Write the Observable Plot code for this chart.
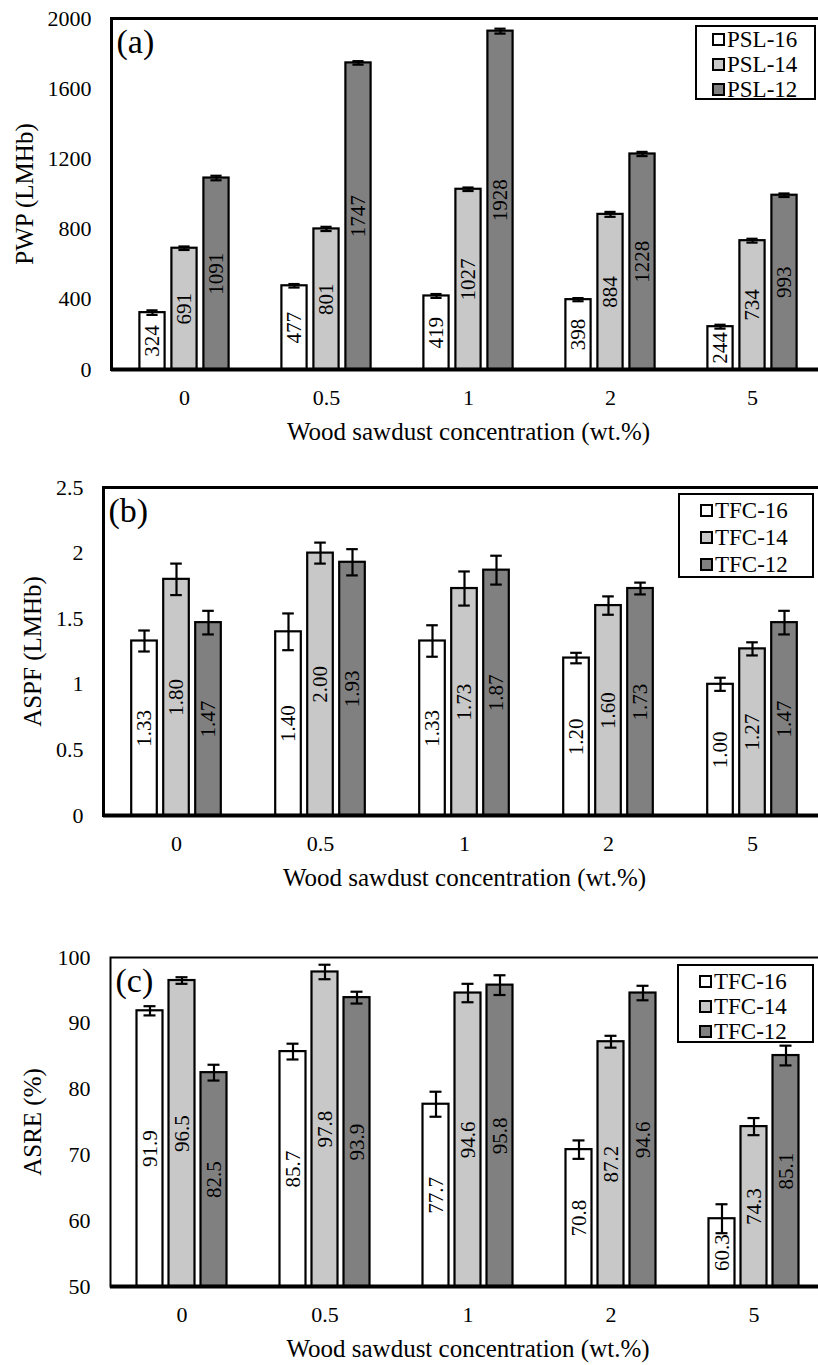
<!DOCTYPE html>
<html><head><meta charset="utf-8">
<script src="https://cdn.jsdelivr.net/npm/d3@7"></script>
<script src="https://cdn.jsdelivr.net/npm/@observablehq/plot@0.6"></script>
<style>
html,body{margin:0;padding:0;background:#fff;overflow:hidden;}
#root{position:relative;width:818px;height:1365px;overflow:hidden;font-family:'Liberation Serif',serif;}
.panel{position:absolute;left:0;width:826px;}
.legend{position:absolute;border:2px solid #000;background:#fff;box-sizing:border-box;font-size:23px;color:#000;font-family:'Liberation Serif',serif;}
.legend .item{position:absolute;display:flex;align-items:center;white-space:nowrap;line-height:1;}
.legend .sw{width:9px;height:9px;border:2px solid #000;margin-right:2px;}
.legend span{font-family:'Liberation Serif',serif;font-size:23px;}
g[aria-label="x-axis label"] text, g[aria-label="y-axis label"] text{font-size:25px;}
</style></head><body><div id="root"></div>
<script>
// ---- data ----
const concentrations = ["0", "0.5", "1", "2", "5"];
const xTitle = "Wood sawdust concentration (wt.%)";
const seriesColors = ["#ffffff", "#c8c8c8", "#808080"];

// (a) PWP
const pwpSeries = ["PSL-16", "PSL-14", "PSL-12"];
const pwp16 = [324, 477, 419, 398, 244];
const pwp14 = [691, 801, 1027, 884, 734];
const pwp12 = [1091, 1747, 1928, 1228, 993];
const pwpErr16 = [13, 10, 11, 9, 11];
const pwpErr14 = [10, 12, 10, 14, 11];
const pwpErr12 = [13, 10, 14, 12, 10];
const pwpTicks = [0, 400, 800, 1200, 1600, 2000];

// (b) ASPF
const aspfSeries = ["TFC-16", "TFC-14", "TFC-12"];
const aspf16 = [1.33, 1.40, 1.33, 1.20, 1.00];
const aspf14 = [1.80, 2.00, 1.73, 1.60, 1.27];
const aspf12 = [1.47, 1.93, 1.87, 1.73, 1.47];
const aspfErr16 = [0.08, 0.14, 0.12, 0.04, 0.05];
const aspfErr14 = [0.12, 0.08, 0.13, 0.07, 0.05];
const aspfErr12 = [0.09, 0.10, 0.11, 0.045, 0.09];
const aspfTicks = [0, 0.5, 1, 1.5, 2, 2.5];

// (c) ASRE
const asreSeries = ["TFC-16", "TFC-14", "TFC-12"];
const asre16 = [91.9, 85.7, 77.7, 70.8, 60.3];
const asre14 = [96.5, 97.8, 94.6, 87.2, 74.3];
const asre12 = [82.5, 93.9, 95.8, 94.6, 85.1];
const asreErr16 = [0.7, 1.2, 1.9, 1.4, 2.2];
const asreErr14 = [0.5, 1.1, 1.4, 0.9, 1.3];
const asreErr12 = [1.2, 0.9, 1.5, 1.1, 1.5];
const asreTicks = [50, 60, 70, 80, 90, 100];

// ---- drawing ----
const root = document.getElementById("root");

function makePanel(cfg) {
  const {top, height, marginLeft, marginTop, marginBottom, series, values, errors,
         yDomain, yTicks, yLabel, yLabelOffset, letter, fmt, legend, frameWidth} = cfg;
  const width = 826, marginRight = 1;
  const step = (width - marginLeft - marginRight) / concentrations.length;
  const barW = 26, gap = 32, capW = 12;
  const inset = (step - barW) / 2;
  const capInset = (step - capW) / 2;
  const base = yDomain[0];
  const rows = [];
  series.forEach((s, j) => values[j].forEach((v, i) =>
    rows.push({conc: concentrations[i], series: s, j, value: v, err: errors[j][i]})));
  const marks = [];
  series.forEach((s, j) => {
    const d = rows.filter(r => r.j === j);
    const dx = (j - 1) * gap;
    marks.push(Plot.barY(d, {x: "conc", y1: () => base, y2: "value", fill: seriesColors[j],
      stroke: "#000", strokeWidth: 2.2, insetLeft: inset, insetRight: inset, dx}));
  });
  series.forEach((s, j) => {
    const d = rows.filter(r => r.j === j);
    const dx = (j - 1) * gap;
    marks.push(Plot.text(d, {x: "conc", y: r => (base + r.value) / 2, text: r => fmt(r.value),
      rotate: -90, dx, fontSize: 21, fill: "#000"}));
  });
  series.forEach((s, j) => {
    const d = rows.filter(r => r.j === j);
    const dx = (j - 1) * gap;
    marks.push(Plot.ruleX(d, {x: "conc", y1: r => r.value - r.err, y2: r => r.value + r.err,
      stroke: "#000", strokeWidth: 2.2, dx}));
    marks.push(Plot.tickY(d, {x: "conc", y: r => r.value + r.err, stroke: "#000", strokeWidth: 2.2,
      insetLeft: capInset, insetRight: capInset, dx}));
    marks.push(Plot.tickY(d, {x: "conc", y: r => r.value - r.err, stroke: "#000", strokeWidth: 2.2,
      insetLeft: capInset, insetRight: capInset, dx}));
  });
  marks.push(Plot.frame({stroke: "#000", strokeWidth: frameWidth}));
  marks.push(Plot.ruleY([base], {stroke: "#000", strokeWidth: 4}));
  marks.push(Plot.text([letter], {frameAnchor: "top-left", textAnchor: "start", lineAnchor: "top",
    dx: 5, dy: 10, fontSize: 34, fill: "#000"}));

  const chart = Plot.plot({
    width, height, marginLeft, marginRight, marginTop, marginBottom,
    style: {fontFamily: "'Liberation Serif', serif", fontSize: "22px", color: "#000", background: "transparent", overflow: "visible"},
    x: {domain: concentrations, padding: 0, label: xTitle, labelAnchor: "center", labelOffset: 70,
        tickSize: 0, tickPadding: 20, labelArrow: false},
    y: {domain: yDomain, ticks: yTicks, tickFormat: d => String(d), label: yLabel, labelAnchor: "center",
        labelOffset: yLabelOffset, tickSize: 0, tickPadding: 20, labelArrow: false},
    marks
  });
  const wrap = document.createElement("div");
  wrap.className = "panel";
  wrap.style.top = top + "px";
  wrap.style.height = height + "px";
  wrap.appendChild(chart);
  root.appendChild(wrap);

  // legend
  const lg = d3.select(wrap).append("div").attr("class", "legend")
    .style("left", legend.left + "px").style("top", legend.top + "px")
    .style("width", legend.width + "px").style("height", legend.height + "px");
  series.forEach((s, j) => {
    const it = lg.append("div").attr("class", "item")
      .style("left", legend.padLeft + "px").style("top", (legend.first + j * legend.spacing - 12) + "px")
      .style("height", "24px");
    it.append("div").attr("class", "sw").style("background", seriesColors[j]);
    it.append("span").text(s);
  });
}

makePanel({
  top: 0, height: 445, marginLeft: 111, marginTop: 18, marginBottom: 76, frameWidth: 3,
  series: pwpSeries, values: [pwp16, pwp14, pwp12], errors: [pwpErr16, pwpErr14, pwpErr12],
  yDomain: [0, 2000], yTicks: pwpTicks, yLabel: "PWP (LMHb)", yLabelOffset: 96, letter: "(a)",
  fmt: v => String(v),
  legend: {left: 695, top: 25, width: 121, height: 75, padLeft: 15, first: 12, spacing: 25}
});
makePanel({
  top: 445, height: 445, marginLeft: 103, marginTop: 42, marginBottom: 75, frameWidth: 3,
  series: aspfSeries, values: [aspf16, aspf14, aspf12], errors: [aspfErr16, aspfErr14, aspfErr12],
  yDomain: [0, 2.5], yTicks: aspfTicks, yLabel: "ASPF (LMHb)", yLabelOffset: 80, letter: "(b)",
  fmt: v => v.toFixed(2),
  legend: {left: 678, top: 48, width: 136, height: 85, padLeft: 20, first: 15, spacing: 27}
});
makePanel({
  top: 890, height: 475, marginLeft: 110, marginTop: 67, marginBottom: 79, frameWidth: 2,
  series: asreSeries, values: [asre16, asre14, asre12], errors: [asreErr16, asreErr14, asreErr12],
  yDomain: [50, 100], yTicks: asreTicks, yLabel: "ASRE (%)", yLabelOffset: 87, letter: "(c)",
  fmt: v => v.toFixed(1),
  legend: {left: 677, top: 74, width: 137, height: 79, padLeft: 20, first: 15, spacing: 25}
});
</script></body></html>
